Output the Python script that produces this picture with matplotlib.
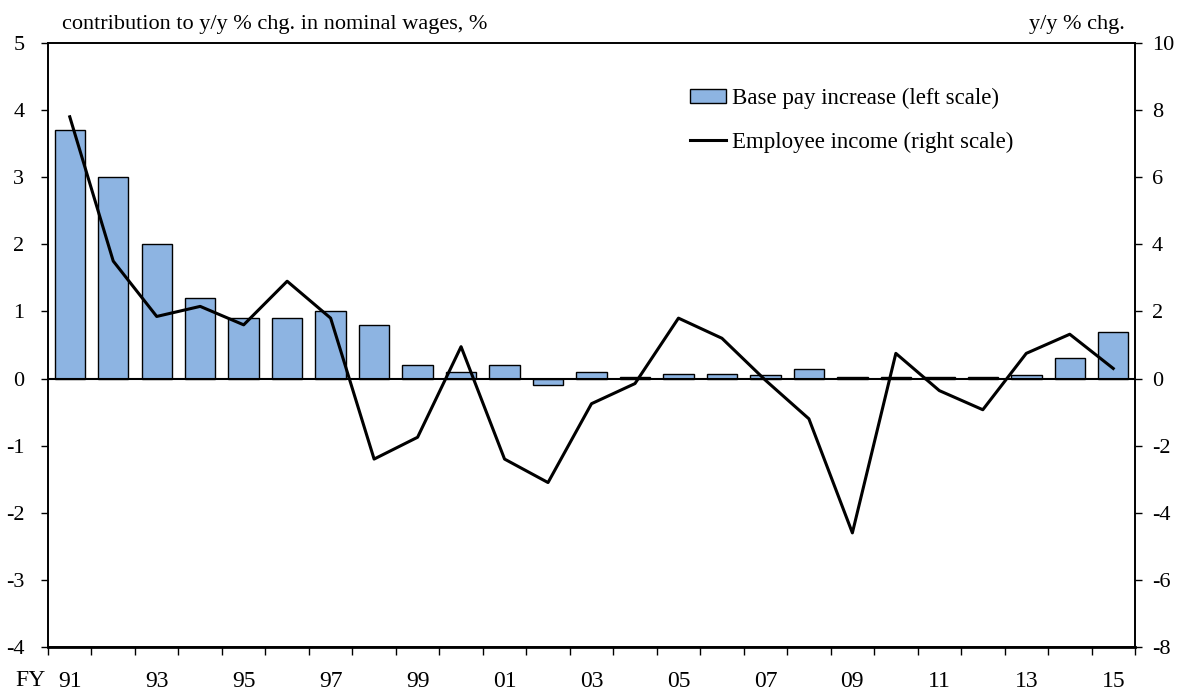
import matplotlib.pyplot as plt
import numpy as np

plt.rcParams['font.family'] = ['Liberation Serif', 'DejaVu Serif']
plt.rcParams['axes.unicode_minus'] = False

# fiscal years 1991-2015
years = ['91', '92', '93', '94', '95', '96', '97', '98', '99', '00', '01', '02', '03',
         '04', '05', '06', '07', '08', '09', '10', '11', '12', '13', '14', '15']

# contribution of base pay increase (left scale, %)
base_pay = [3.7, 3.0, 2.0, 1.2, 0.9, 0.9, 1.0, 0.8, 0.2, 0.1, 0.2, -0.1, 0.1,
            0.02, 0.07, 0.07, 0.05, 0.14, 0.02, 0.02, 0.02, 0.02, 0.05, 0.3, 0.7]

# employee income, y/y % chg. (right scale)
employee_income = [7.8, 3.5, 1.85, 2.15, 1.6, 2.9, 1.8, -2.4, -1.75, 0.95, -2.4, -3.1, -0.75,
                   -0.15, 1.8, 1.2, -0.05, -1.2, -4.6, 0.75, -0.36, -0.93, 0.75, 1.32, 0.3]

x = np.arange(len(years))

fig = plt.figure(figsize=(11.77, 6.93), dpi=100)
ax = fig.add_axes([0.0408, 0.0664, 0.9235, 0.8716])
ax2 = ax.twinx()

bars = ax.bar(x, base_pay, width=0.7, color='#8DB4E2', edgecolor='black', linewidth=1.0,
              label='Base pay increase (left scale)', zorder=2)
ax.axhline(0, color='black', linewidth=1.5, zorder=3)
line, = ax2.plot(x, employee_income, color='black', linewidth=2.2,
                 label='Employee income (right scale)')

ax.set_xlim(-0.5, len(years) - 0.5)
ax.set_ylim(-4, 5)
ax2.set_ylim(-8, 10)
ax.set_yticks(np.arange(-4, 6, 1))
ax2.set_yticks(np.arange(-8, 12, 2))

# ticks between categories, labels every other year
ax.set_xticks(np.arange(-0.5, len(years), 1))
ax.set_xticklabels([])
ax.set_xticks(x[::2], minor=True)
ax.set_xticklabels(years[::2], minor=True)
ax.tick_params(axis='x', which='major', direction='out', length=6, width=1)
ax.tick_params(axis='x', which='minor', length=0, pad=17, labelsize=17)
ax.tick_params(axis='y', direction='out', length=5, width=1, labelsize=16, pad=12)
ax2.tick_params(axis='y', direction='out', length=5, width=1, labelsize=16, pad=7)

for a in (ax, ax2):
    for s in a.spines.values():
        s.set_linewidth(1.2)
ax2.spines['bottom'].set_linewidth(2)

ax.text(-0.030, -0.0563, 'FY', transform=ax.transAxes, fontsize=17, ha='left', va='center')
ax.text(0.013, 1.031, 'contribution to y/y % chg. in nominal wages, %', transform=ax.transAxes,
        fontsize=16, ha='left', va='center')
ax.text(0.991, 1.031, 'y/y % chg.', transform=ax.transAxes, fontsize=16, ha='right', va='center')

ax2.legend([bars, line], [bars.get_label(), line.get_label()], loc='upper left',
           bbox_to_anchor=(0.582, 0.941), frameon=False, fontsize=16.5,
           handlelength=1.6, handleheight=0.55, handletextpad=0.25, labelspacing=0.99,
           borderaxespad=0)

fig.savefig('out.png', dpi=100)
